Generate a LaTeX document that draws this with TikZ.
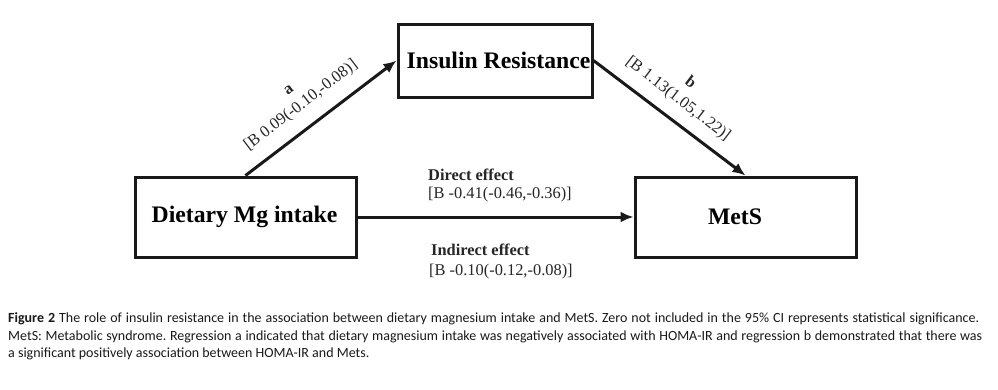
\documentclass[tikz,border=0pt]{standalone}
\usepackage{fontspec}
\setmainfont{Liberation Serif}
\newfontfamily\capfont{Carlito}
\usetikzlibrary{arrows.meta}
\begin{document}
\frenchspacing
\begin{tikzpicture}[x=1pt,y=-1pt,
  box/.style={draw=black!90, line width=3pt, minimum width=#1, inner sep=0pt, font=\fontsize{23.7}{28}\selectfont\bfseries},
  conn/.style={line width=3pt, draw=black!90, -{Latex[length=13pt,width=11pt]}},
  lab/.style={font=\fontsize{16.4}{20}\selectfont, align=center, inner sep=0pt, text=black!85},
  captext/.style={font=\capfont\fontsize{14}{17}\selectfont, anchor=base west, inner sep=0pt, text=black!90}]
\useasboundingbox (0,0) rectangle (998,389);
\node[box=194pt, minimum height=73pt] (ins) at (495,60.5) {\hspace*{7pt}Insulin Resistance};
\node[box=221pt, minimum height=80pt] (diet) at (245.5,217) {\hspace*{-2pt}Dietary Mg intake};
\node[box=221pt, minimum height=80pt] (mets) at (745.5,217) {MetS\hspace*{21pt}};
\draw[conn] (diet.north) -- (ins.west);
\draw[conn] (ins.east) -- (mets.north);
\draw[conn] (diet.east) -- (mets.west);
\node[lab, rotate=37.5] (la) at (296,99) {\textbf{a}\\{[}B 0.09(-0.10,-0.08)]};
\node[lab, rotate=-37.5] (lb) at (684,91) {\textbf{b}\\{[}B 1.13(1.05,1.22)]};
\node[lab, anchor=west] (dl1) at (428,175) {\textbf{Direct effect}};
\node[lab, anchor=west] (dl2) at (428,195) {{[}B -0.41(-0.46,-0.36)]};
\node[lab, anchor=west] (il1) at (431,250) {\textbf{Indirect effect}};
\node[lab, anchor=west] (il2) at (429,272) {{[}B -0.10(-0.12,-0.08)]};
\node[captext] (c1) at (8,322.5) {\makebox[971pt][s]{\textbf{Figure 2} The role of insulin resistance in the association between dietary magnesium intake and MetS. Zero not included in the 95\% CI represents statistical significance.}};
\node[captext] (c2) at (8,340) {\makebox[974pt][s]{MetS: Metabolic syndrome. Regression a indicated that dietary magnesium intake was negatively associated with HOMA-IR and regression b demonstrated that there was}};
\node[captext] (c3) at (8,357.5) {a significant positively association between HOMA-IR and Mets.};
\end{tikzpicture}
\end{document}
